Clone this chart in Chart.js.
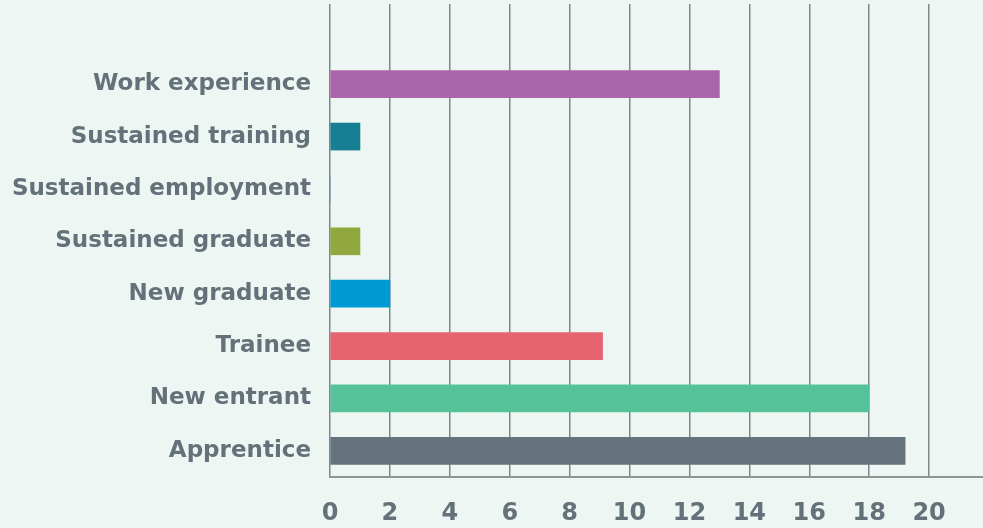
<!DOCTYPE html>
<html>
<head>
<meta charset="utf-8">
<script src="https://cdn.jsdelivr.net/npm/chart.js@4"></script>
<style>
  html, body { margin: 0; padding: 0; background: #edf6f2; }
  #wrap { width: 983px; height: 528px; }
</style>
</head>
<body>
<div id="wrap"><canvas id="outcomesChart"></canvas></div>
<script>
const categories = ['Work experience', 'Sustained training', 'Sustained employment', 'Sustained graduate', 'New graduate', 'Trainee', 'New entrant', 'Apprentice'];
const counts = [13, 1, 0, 1, 2, 9.1, 18, 19.2];
const barColors = ['#ab66ab', '#177f93', '#5f8fb0', '#92a83f', '#0099d4', '#e66470', '#56c29a', '#65737c'];

document.addEventListener('DOMContentLoaded', function() {
    const canvas = document.getElementById('outcomesChart');
    const ctx = canvas.getContext('2d');
    const textColor = '#65717a';
    const gridColor = '#7d878c';

    new Chart(ctx, {
        type: 'bar',
        data: {
            labels: categories,
            datasets: [{
                data: counts,
                backgroundColor: barColors,
                borderWidth: 0,
                barThickness: 27,
                xAxisID: 'x'
            }]
        },
        options: {
            indexAxis: 'y',
            responsive: true,
            maintainAspectRatio: false,
            animation: false,
            layout: { padding: { top: 4, right: 0, bottom: 0, left: 0 } },
            plugins: {
                legend: { display: false },
                tooltip: { enabled: false }
            },
            scales: {
                x: {
                    position: 'bottom',
                    min: 0,
                    max: 21.8,
                    ticks: {
                        stepSize: 2,
                        includeBounds: false,
                        autoSkip: false,
                        maxRotation: 0,
                        color: textColor,
                        padding: 22,
                        font: { family: 'DejaVu Sans', weight: 'bold', size: 24 }
                    },
                    afterFit: function(scale) { scale.height = 51; },
                    grid: { color: gridColor, lineWidth: 1.5, drawTicks: false },
                    border: { display: true, color: '#8f9696', width: 2 }
                },
                x2: {
                    position: 'top',
                    min: 0,
                    max: 21.8,
                    ticks: { stepSize: 2, includeBounds: false, display: false, autoSkip: false },
                    grid: {
                        color: gridColor,
                        lineWidth: 1.5,
                        drawOnChartArea: false,
                        drawTicks: true,
                        tickLength: 54
                    },
                    border: { display: false }
                },
                y: {
                    ticks: {
                        color: textColor,
                        padding: 19,
                        font: { family: 'DejaVu Sans', weight: 'bold', size: 23 }
                    },
                    afterFit: function(scale) { scale.width = 330; },
                    grid: { display: false, drawTicks: false },
                    border: { display: false }
                }
            }
        }
    });
});
</script>
</body>
</html>
